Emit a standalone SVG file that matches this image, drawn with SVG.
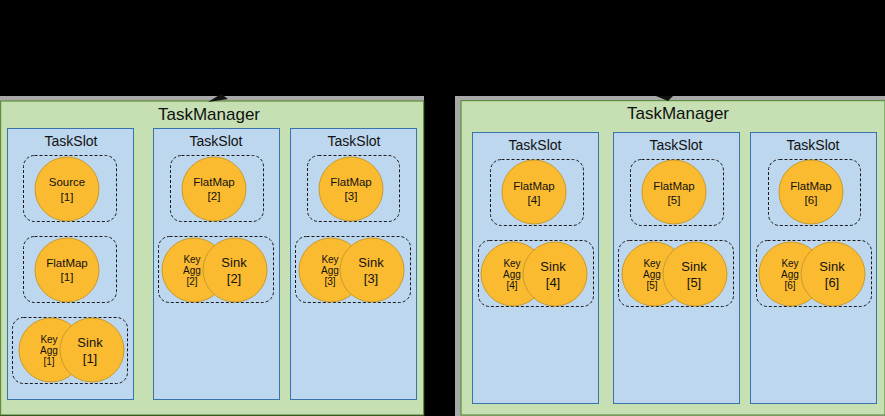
<svg xmlns="http://www.w3.org/2000/svg" width="885" height="416" viewBox="0 0 885 416">
<defs>
<style>
.tm{fill:#c6e0b4;stroke:#5f8f3e;stroke-width:1.2}
.sh{fill:#a8a8a8}
.slot{fill:#bdd7ee;stroke:#3a72ab;stroke-width:1}
.grp{fill:none;stroke:#1a1a1a;stroke-width:1;stroke-dasharray:3 2}
.op{fill:#fbbb30;stroke:#c99a2c;stroke-width:1}
text{font-family:"Liberation Sans",Arial,sans-serif;fill:#111;text-anchor:middle}
.t1{font-size:17px}
.t2{font-size:14px}
.t3{font-size:11.5px}
.t4{font-size:13px}
.t5{font-size:10px}
</style>
</defs>
<rect x="0" y="0" width="885" height="416" fill="#000"/>

<g id="tm1">
<rect class="sh" x="0" y="96" width="424" height="8"/>
<rect class="tm" x="0.6" y="101" width="423" height="314"/>
<text class="t1" x="209" y="120">TaskManager</text>
</g>
<g id="tm2">
<rect class="sh" x="455" y="96" width="430" height="320"/>
<rect class="tm" x="461" y="100.6" width="424" height="314.4"/>
<text class="t1" x="678" y="119">TaskManager</text>
</g>

<g id="slot1">
<rect class="slot" x="7.5" y="128.5" width="126" height="271"/>
<text class="t2" x="71" y="146">TaskSlot</text>
</g>
<g id="slot2">
<rect class="slot" x="153.5" y="128.5" width="126" height="271"/>
<text class="t2" x="216" y="146">TaskSlot</text>
</g>
<g id="slot3">
<rect class="slot" x="290.5" y="128.5" width="126" height="271"/>
<text class="t2" x="354" y="146">TaskSlot</text>
</g>
<g id="slot4">
<rect class="slot" x="472.5" y="132.5" width="126" height="271"/>
<text class="t2" x="535" y="150">TaskSlot</text>
</g>
<g id="slot5">
<rect class="slot" x="613.5" y="132.5" width="126" height="271"/>
<text class="t2" x="676" y="150">TaskSlot</text>
</g>
<g id="slot6">
<rect class="slot" x="750.5" y="132.5" width="126" height="271"/>
<text class="t2" x="813" y="150">TaskSlot</text>
</g>

<!-- chain groups -->
<g id="grp-source1">
<rect class="grp" x="23.5" y="155.5" width="93" height="66" rx="11"/>
<circle class="op" cx="67" cy="189" r="32"/>
<text class="t3" x="67" y="186">Source</text>
<text class="t3" x="67" y="201">[1]</text>
</g>
<g id="grp-flatmap1">
<rect class="grp" x="23.5" y="236.5" width="93" height="66" rx="11"/>
<circle class="op" cx="67" cy="270" r="32"/>
<text class="t3" x="67" y="267">FlatMap</text>
<text class="t3" x="67" y="281">[1]</text>
</g>
<g id="grp-keysink1">
<rect class="grp" x="12.5" y="317.5" width="115" height="66" rx="11"/>
<circle class="op" cx="51" cy="350" r="32"/>
<circle class="op" cx="92" cy="350" r="32"/>
<text class="t5" x="49" y="343">Key</text>
<text class="t5" x="49" y="354">Agg</text>
<text class="t5" x="49" y="365">[1]</text>
<text class="t4" x="90" y="347">Sink</text>
<text class="t4" x="90" y="363">[1]</text>
</g>

<g id="grp-flatmap2">
<rect class="grp" x="170.5" y="155.5" width="93" height="66" rx="11"/>
<circle class="op" cx="214" cy="189" r="32"/>
<text class="t3" x="214" y="186">FlatMap</text>
<text class="t3" x="214" y="200">[2]</text>
</g>
<g id="grp-keysink2">
<rect class="grp" x="158.5" y="236.5" width="115" height="66" rx="11"/>
<circle class="op" cx="194" cy="270" r="32"/>
<circle class="op" cx="235" cy="270" r="32"/>
<text class="t5" x="192" y="263">Key</text>
<text class="t5" x="192" y="274">Agg</text>
<text class="t5" x="192" y="285">[2]</text>
<text class="t4" x="234" y="267">Sink</text>
<text class="t4" x="234" y="283">[2]</text>
</g>

<g id="grp-flatmap3">
<rect class="grp" x="307.5" y="155.5" width="92" height="66" rx="11"/>
<circle class="op" cx="351" cy="189" r="32"/>
<text class="t3" x="351" y="186">FlatMap</text>
<text class="t3" x="351" y="200">[3]</text>
</g>
<g id="grp-keysink3">
<rect class="grp" x="295.5" y="236.5" width="115" height="66" rx="11"/>
<circle class="op" cx="331" cy="270" r="32"/>
<circle class="op" cx="372" cy="270" r="32"/>
<text class="t5" x="330" y="263">Key</text>
<text class="t5" x="330" y="274">Agg</text>
<text class="t5" x="330" y="285">[3]</text>
<text class="t4" x="371" y="267">Sink</text>
<text class="t4" x="371" y="283">[3]</text>
</g>

<g id="grp-flatmap4">
<rect class="grp" x="490.5" y="159.5" width="93" height="66" rx="11"/>
<circle class="op" cx="534" cy="192" r="32"/>
<text class="t3" x="534" y="190">FlatMap</text>
<text class="t3" x="534" y="204">[4]</text>
</g>
<g id="grp-keysink4">
<rect class="grp" x="478.5" y="240.5" width="115" height="66" rx="11"/>
<circle class="op" cx="513" cy="274" r="32"/>
<circle class="op" cx="555" cy="274" r="32"/>
<text class="t5" x="512" y="267">Key</text>
<text class="t5" x="512" y="278">Agg</text>
<text class="t5" x="512" y="289">[4]</text>
<text class="t4" x="553" y="271">Sink</text>
<text class="t4" x="553" y="287">[4]</text>
</g>

<g id="grp-flatmap5">
<rect class="grp" x="630.5" y="159.5" width="93" height="66" rx="11"/>
<circle class="op" cx="674" cy="192" r="32"/>
<text class="t3" x="674" y="190">FlatMap</text>
<text class="t3" x="674" y="204">[5]</text>
</g>
<g id="grp-keysink5">
<rect class="grp" x="618.5" y="240.5" width="115" height="66" rx="11"/>
<circle class="op" cx="654" cy="274" r="32"/>
<circle class="op" cx="695" cy="274" r="32"/>
<text class="t5" x="652" y="267">Key</text>
<text class="t5" x="652" y="278">Agg</text>
<text class="t5" x="652" y="289">[5]</text>
<text class="t4" x="694" y="271">Sink</text>
<text class="t4" x="694" y="287">[5]</text>
</g>

<g id="grp-flatmap6">
<rect class="grp" x="768.5" y="159.5" width="92" height="66" rx="11"/>
<circle class="op" cx="811" cy="192" r="32"/>
<text class="t3" x="811" y="190">FlatMap</text>
<text class="t3" x="811" y="204">[6]</text>
</g>
<g id="grp-keysink6">
<rect class="grp" x="756.5" y="240.5" width="115" height="66" rx="11"/>
<circle class="op" cx="791" cy="274" r="32"/>
<circle class="op" cx="833" cy="274" r="32"/>
<text class="t5" x="790" y="267">Key</text>
<text class="t5" x="790" y="278">Agg</text>
<text class="t5" x="790" y="289">[6]</text>
<text class="t4" x="832" y="271">Sink</text>
<text class="t4" x="832" y="287">[6]</text>
</g>

<g id="connectors">
<path d="M260 70 L222 97" fill="none" stroke="#000" stroke-width="1.5"/>
<polygon points="208,102 221,94 228,99" fill="#111"/>
<path d="M665 40 L665 96" fill="none" stroke="#000" stroke-width="1.5"/>
<polygon points="656,96 673,96 668,101" fill="#111"/>
</g>
</svg>
